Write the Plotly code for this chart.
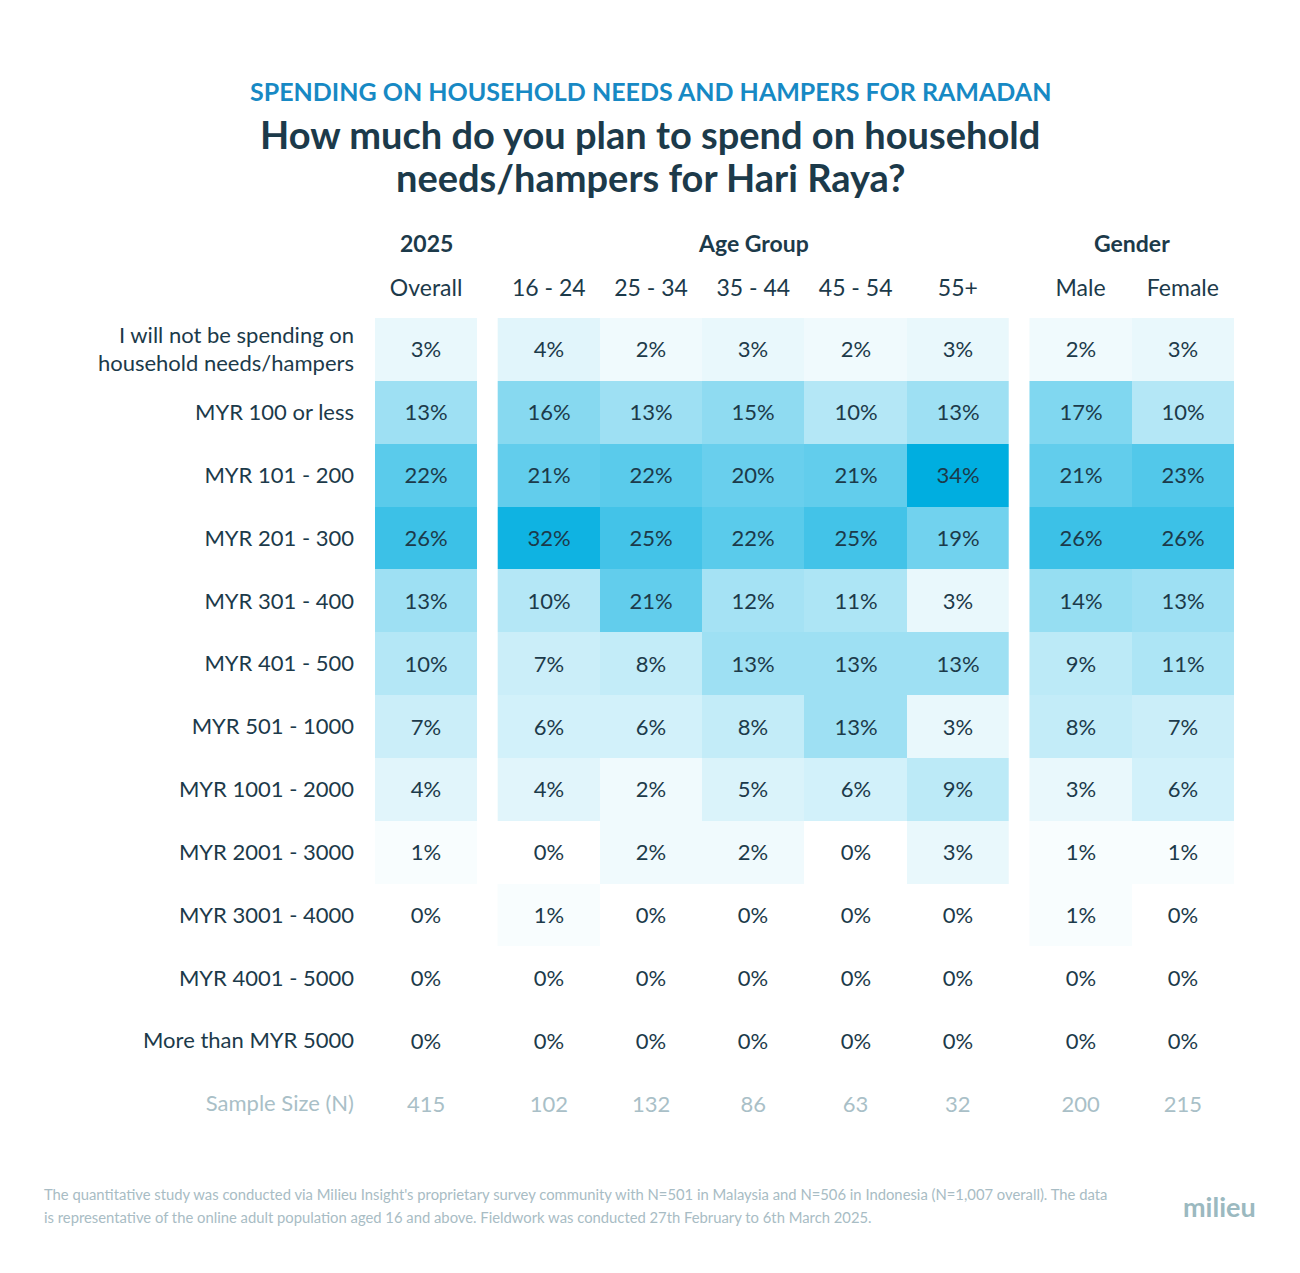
import plotly.graph_objects as go

row_labels = [
    "I will not be spending on<br>household needs/hampers",
    "MYR 100 or less", "MYR 101 - 200", "MYR 201 - 300", "MYR 301 - 400",
    "MYR 401 - 500", "MYR 501 - 1000", "MYR 1001 - 2000", "MYR 2001 - 3000",
    "MYR 3001 - 4000", "MYR 4001 - 5000", "More than MYR 5000",
]
overall_cols = ["Overall"]
age_cols = ["16 - 24", "25 - 34", "35 - 44", "45 - 54", "55+"]
gender_cols = ["Male", "Female"]

overall = [3, 13, 22, 26, 13, 10, 7, 4, 1, 0, 0, 0]
age = [
    [4, 2, 3, 2, 3],
    [16, 13, 15, 10, 13],
    [21, 22, 20, 21, 34],
    [32, 25, 22, 25, 19],
    [10, 21, 12, 11, 3],
    [7, 8, 13, 13, 13],
    [6, 6, 8, 13, 3],
    [4, 2, 5, 6, 9],
    [0, 2, 2, 0, 3],
    [1, 0, 0, 0, 0],
    [0, 0, 0, 0, 0],
    [0, 0, 0, 0, 0],
]
gender = [
    [2, 3], [17, 10], [21, 23], [26, 26], [14, 13], [9, 11],
    [8, 7], [3, 6], [1, 1], [1, 0], [0, 0], [0, 0],
]
sample_overall = [415]
sample_age = [102, 132, 86, 63, 32]
sample_gender = [200, 215]

# layout positions (column centres in cell units)
x_overall = [0]
x_age = [1.2, 2.2, 3.2, 4.2, 5.2]
x_gender = [6.4, 7.4]

DARK = "#1c3a4a"
GREY = "#a9bfc7"
FONT = "Lato"
cscale = [[0, "#ffffff"], [1, "#00aee0"]]
rows = list(range(len(row_labels)))

fig = go.Figure()
for xs, zz in [(x_overall, [[v] for v in overall]), (x_age, age), (x_gender, gender)]:
    fig.add_trace(go.Heatmap(
        x=xs, y=rows, z=zz, zmin=0, zmax=34, colorscale=cscale, showscale=False,
        texttemplate="%{z}%", textfont=dict(size=22, color=DARK, family=FONT),
        hoverinfo="skip",
    ))

sx = x_overall + x_age + x_gender
sv = sample_overall + sample_age + sample_gender
fig.add_trace(go.Scatter(
    x=sx, y=[12.04] * len(sx), mode="text", text=[str(v) for v in sv],
    textfont=dict(size=22, color=GREY, family=FONT), hoverinfo="skip", showlegend=False,
))

fig.update_xaxes(
    range=[-0.5, 7.9], side="top", tickvals=sx,
    ticktext=overall_cols + age_cols + gender_cols,
    tickfont=dict(size=23, color=DARK, family=FONT),
    showgrid=False, zeroline=False, showline=False, ticks="", ticklabelstandoff=16,
)
fig.update_yaxes(
    range=[12.5, -0.5], tickvals=rows + [12],
    ticktext=row_labels + [f"<span style='color:{GREY}'>Sample Size (N)</span>"],
    tickfont=dict(size=22, color=DARK, family=FONT),
    showgrid=False, zeroline=False, showline=False, ticks="", ticklabelstandoff=20,
)

W, H = 1300, 1273
L, R, T, B = 375, 66, 318, 138
pw, ph = W - L - R, H - T - B

def px(x):
    return (x - L) / pw

def py(y):
    return (H - B - y) / ph

ann = []
for xv, txt in [(0, "2025"), (3.2, "Age Group"), (6.9, "Gender")]:
    ann.append(dict(x=xv, y=py(243), xref="x", yref="paper", text=f"<b>{txt}</b>",
                    showarrow=False, font=dict(size=23, color=DARK, family=FONT),
                    xanchor="center", yanchor="middle"))
ann.append(dict(x=px(650), y=py(91), xref="paper", yref="paper",
                text="<b>SPENDING ON HOUSEHOLD NEEDS AND HAMPERS FOR RAMADAN</b>",
                showarrow=False, font=dict(size=25, color="#1789c4", family=FONT),
                xanchor="center", yanchor="middle"))
ann.append(dict(x=px(650), y=py(134), xref="paper", yref="paper",
                text="<b>How much do you plan to spend on household</b>",
                showarrow=False, font=dict(size=38, color=DARK, family=FONT),
                xanchor="center", yanchor="middle"))
ann.append(dict(x=px(650), y=py(177), xref="paper", yref="paper",
                text="<b>needs/hampers for Hari Raya?</b>",
                showarrow=False, font=dict(size=38, color=DARK, family=FONT),
                xanchor="center", yanchor="middle"))
ann.append(dict(x=px(42), y=py(1194), xref="paper", yref="paper",
                text="The quantitative study was conducted via Milieu Insight's proprietary survey community with N=501 in Malaysia and N=506 in Indonesia (N=1,007 overall). The data",
                showarrow=False, font=dict(size=14.8, color="#a8bcc4", family=FONT),
                xanchor="left", yanchor="middle"))
ann.append(dict(x=px(42), y=py(1217), xref="paper", yref="paper",
                text="is representative of the online adult population aged 16 and above. Fieldwork was conducted 27th February to 6th March 2025.",
                showarrow=False, font=dict(size=14.8, color="#a8bcc4", family=FONT),
                xanchor="left", yanchor="middle"))
ann.append(dict(x=px(1258), y=py(1206), xref="paper", yref="paper",
                text="<b>milieu</b>", showarrow=False,
                font=dict(size=27, color="#9bb9c0", family=FONT),
                xanchor="right", yanchor="middle"))

fig.update_layout(
    width=W, height=H, margin=dict(l=L, r=R, t=T, b=B, autoexpand=False),
    paper_bgcolor="white", plot_bgcolor="white", showlegend=False,
    annotations=ann, font=dict(family=FONT),
)
fig.write_html("out.html")
